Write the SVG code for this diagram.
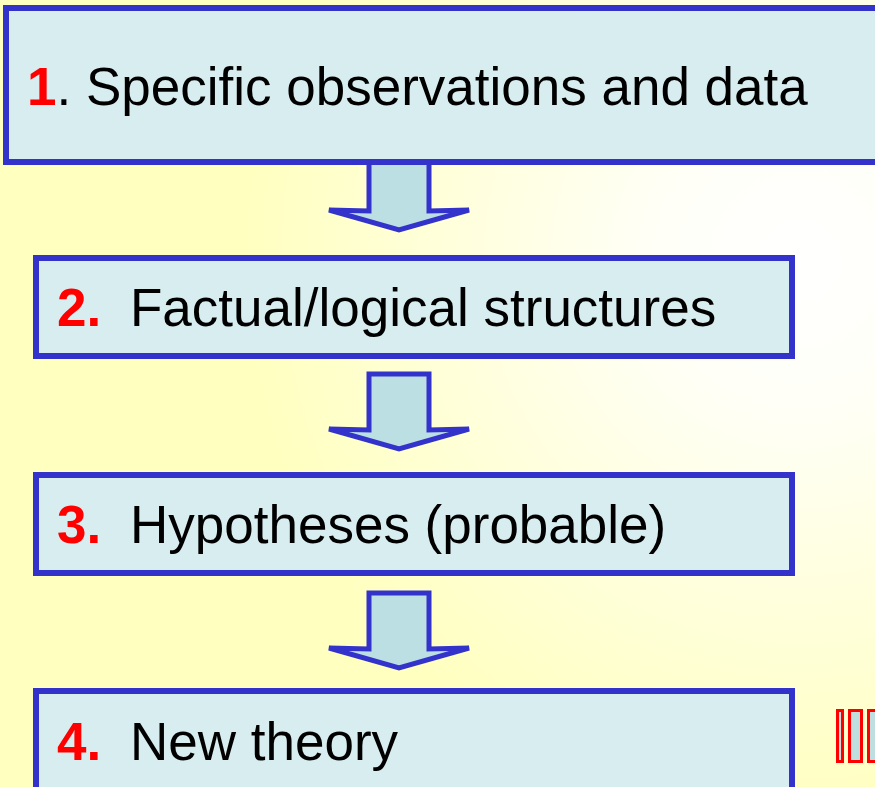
<svg xmlns="http://www.w3.org/2000/svg" width="875" height="787" viewBox="0 0 875 787">
<defs>
<radialGradient id="bg" gradientUnits="userSpaceOnUse" cx="800" cy="260" r="560">
<stop offset="0" stop-color="#FFFFFF"/>
<stop offset="0.25" stop-color="#FFFFF8"/>
<stop offset="1" stop-color="#FFFFC0"/>
</radialGradient>
<style>
.box{fill:#D8EDF0;stroke:#3333CC;stroke-width:6}
.arrow{fill:#BBDFE2;stroke:#3333CC;stroke-width:5;stroke-linejoin:miter}
.t{font-family:"Liberation Sans",Arial,sans-serif;font-size:53px;fill:#000}
.n{fill:#FF0000;font-weight:bold}
.tofu{fill:#BEDEE0;stroke:#FF0000;stroke-width:3}
</style>
</defs>
<rect x="0" y="0" width="875" height="787" fill="url(#bg)"/>
<g id="connectors">
<polygon class="arrow" points="369,155 429,155 429,211 469,210 399,230 329,210 369,211"/>
<polygon class="arrow" points="369,374 429,374 429,430 469,429 399,449 329,429 369,430"/>
<polygon class="arrow" points="369,593 429,593 429,649 469,648 399,668 329,648 369,649"/>
</g>
<g id="node1">
<rect class="box" x="6" y="8" width="880" height="154"/>
<text class="t" x="27" y="105"><tspan class="n">1</tspan>. Specific observations and data</text>
</g>
<g id="node2">
<rect class="box" x="36" y="258" width="756" height="98"/>
<text class="t" x="57" y="326"><tspan class="n">2.</tspan><tspan x="130">Factual/logical structures</tspan></text>
</g>
<g id="node3">
<rect class="box" x="36" y="475" width="756" height="98"/>
<text class="t" x="57" y="543"><tspan class="n">3.</tspan><tspan x="130">Hypotheses (probable)</tspan></text>
</g>
<g id="node4">
<rect class="box" x="36" y="691" width="756" height="120"/>
<text class="t" x="57" y="760"><tspan class="n">4.</tspan><tspan x="130">New theory</tspan></text>
</g>
<g id="tofu">
<rect class="tofu" x="837.5" y="710.5" width="5" height="51"/>
<rect class="tofu" x="849.5" y="710.5" width="12" height="51"/>
<rect class="tofu" x="868.5" y="710.5" width="12" height="51"/>
</g>
</svg>
